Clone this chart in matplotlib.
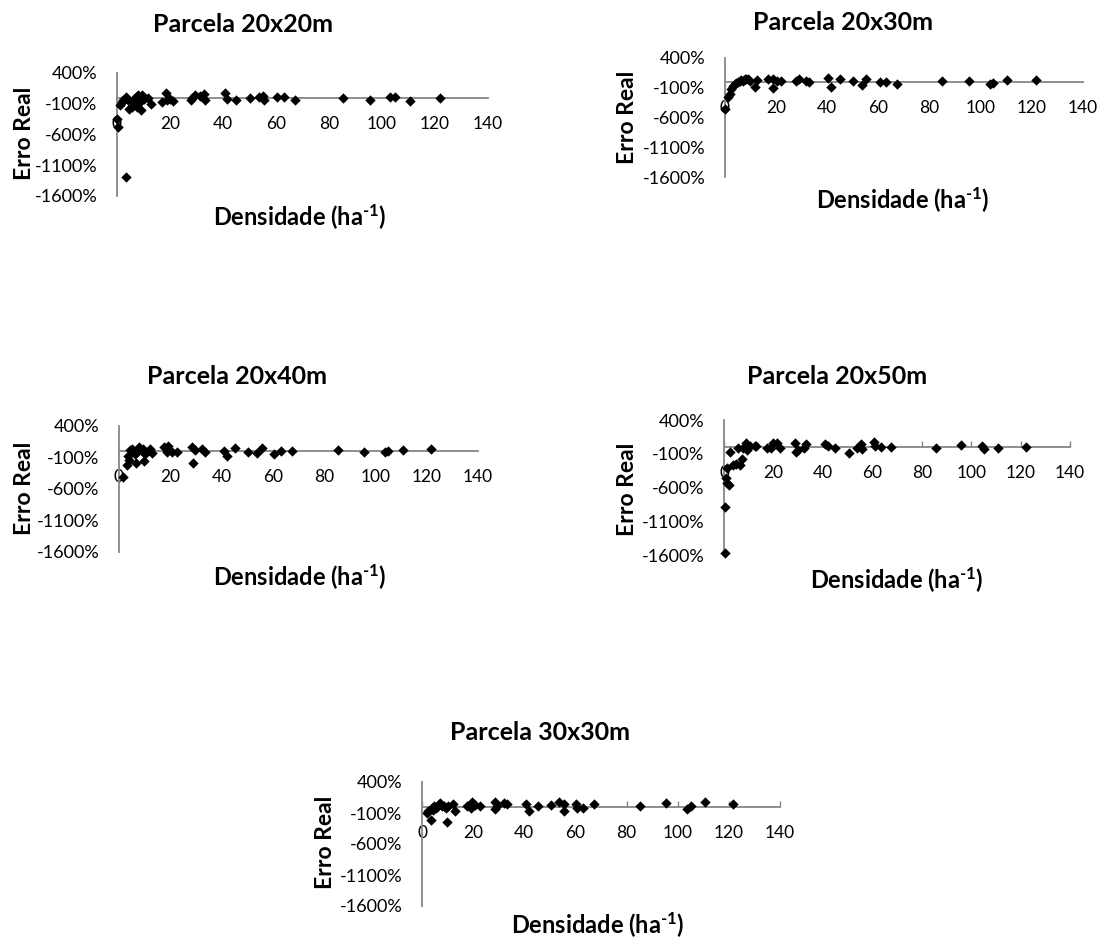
import matplotlib
matplotlib.use('Agg')
import matplotlib.pyplot as plt
from matplotlib.ticker import FuncFormatter

plt.rcParams['font.family'] = ['Lato', 'DejaVu Sans']
plt.rcParams['mathtext.fontset'] = 'custom'
plt.rcParams['mathtext.rm'] = 'Lato:bold'
plt.rcParams['mathtext.bf'] = 'Lato:bold'
plt.rcParams['mathtext.it'] = 'Lato:bold'

# Erro real (%) em função da densidade (ha-1), por tamanho de parcela
titulos = ['Parcela 20x20m', 'Parcela 20x30m', 'Parcela 20x40m',
           'Parcela 20x50m', 'Parcela 30x30m']

dens_20x20 = [0.1, 0.5, 3.3, 1.1, 1.8, 2.4, 3.0, 3.4, 4.3, 4.7, 5.5, 6.2, 6.5,
              7.3, 7.5, 8.1, 8.5, 8.8, 9.1, 9.4, 10.0, 11.7, 12.8, 17.0, 18.6,
              18.9, 19.9, 21.1, 27.9, 28.3, 29.6, 31.4, 32.7, 33.3, 40.6, 41.5,
              44.9, 50.0, 53.5, 55.0, 55.3, 60.4, 62.9, 67.3, 85.1, 95.3, 103.2,
              104.9, 110.6, 121.7]
erro_20x20 = [-340, -475, -1290, -125, -70, -45, -15, 10, -45, -180, -150, -70,
              -15, 10, -150, 40, -15, -70, -205, 50, -15, 0, -100, -70, 80, -45,
              -15, -60, -45, 0, 40, 25, 65, -45, 75, -25, -45, 0, 10, 20, -45,
              10, 10, -35, 0, -35, 10, 10, -60, 0]

dens_20x30 = [0.1, 1.2, 1.8, 2.5, 3.1, 3.8, 4.4, 5.1, 5.7, 6.4, 7.1, 7.7, 8.4,
              9.0, 9.6, 11.6, 12.6, 16.8, 18.8, 18.8, 20.5, 22.0, 27.9, 29.0,
              31.8, 32.7, 40.3, 41.6, 44.8, 50.0, 53.6, 55.3, 60.5, 62.8, 67.3,
              85.0, 95.3, 103.5, 104.9, 110.4, 121.8]
erro_20x30 = [-450, -250, -200, -120, -65, -40, -20, -10, 15, 30, 15, 45, 55,
              55, 15, -95, 25, 45, -105, 55, 15, 15, 15, 45, 15, 5, 70, -80, 45,
              15, -55, 45, -10, -10, -30, 15, 15, -30, -20, 35, 30]

dens_20x40 = [1.6, 3.1, 3.8, 3.5, 4.4, 5.1, 6.8, 6.4, 7.0, 7.9, 8.7, 9.2, 9.6,
              10.3, 12.0, 12.9, 17.4, 19.1, 18.7, 20.7, 22.6, 28.5, 28.9, 29.5,
              32.4, 33.4, 40.8, 42.1, 45.4, 50.3, 53.8, 55.8, 60.6, 63.3, 67.5,
              85.3, 95.4, 103.6, 104.9, 110.7, 121.7]
erro_20x40 = [-415, -220, -140, -70, 20, 35, -190, -40, -15, 65, 20, 35, -150,
              -40, 35, -25, 65, 75, -15, -15, -15, 65, -190, 20, 35, -15, 0, -70,
              55, -5, -25, 45, -40, 0, 0, 20, -15, -15, 0, 20, 30]

dens_20x50 = [0.3, 0.5, 0.9, 1.3, 1.9, 1.3, 2.3, 3.6, 5.0, 6.3, 7.3, 5.5, 7.7,
              9.0, 9.4, 10.4, 12.4, 13.1, 17.5, 18.9, 19.8, 21.6, 22.5, 28.6,
              29.3, 29.9, 32.4, 33.3, 40.8, 42.1, 45.1, 50.5, 54.0, 55.6, 55.9,
              60.7, 61.0, 63.4, 67.5, 85.6, 95.8, 104.2, 105.3, 110.9, 122.1]
erro_20x50 = [-1575, -885, -455, -540, -565, -315, -70, -265, -255, -265, -180,
              -20, -20, 55, -45, 20, 20, 15, -10, -20, 55, 55, -20, 55, -70, -45,
              -20, 40, 45, 20, -20, -95, -20, 40, -35, 80, 20, -5, 5, -20, 30,
              15, -35, -20, -5]

dens_30x30 = [1.8, 2.5, 3.5, 3.8, 4.4, 4.8, 5.3, 6.1, 6.6, 7.0, 7.7, 8.7, 9.3,
              9.6, 10.0, 12.0, 12.9, 17.5, 19.2, 19.7, 20.7, 22.7, 28.6, 28.6,
              29.2, 32.2, 33.1, 40.7, 41.8, 45.2, 50.3, 53.7, 55.7, 55.7, 60.2,
              60.8, 63.1, 67.4, 85.3, 95.4, 103.5, 105.0, 110.7, 121.8]
erro_30x30 = [-100, -65, -210, -25, -50, 5, -20, 20, 40, 60, 5, 20, -20, -245,
              5, 40, -75, 20, -20, 85, 30, 20, 75, -30, 5, 60, 40, 50, -60, 20,
              30, 75, 40, -75, 50, -20, -20, 50, 5, 60, -30, 5, 85, 40]

dens = [dens_20x20, dens_20x30, dens_20x40, dens_20x50, dens_30x30]
erro = [erro_20x20, erro_20x30, erro_20x40, erro_20x50, erro_30x30]

W, H = 1099, 940
# caixa do gráfico (esq, dir, topo, base) em pixels
caixas = [(117, 488, 73, 196), (725, 1083, 58, 177), (119, 478, 426, 552),
          (724, 1070, 420, 555), (422, 780, 782, 906)]
pos_titulo = [(243, 24), (843, 23), (237, 377), (837, 377), (540, 733)]
pos_xlabel = [(300, 217), (903, 200), (300, 577), (897, 580), (598, 925)]
pos_ylabel = [(25, 133), (627, 117), (25, 488), (627, 489), (325, 842)]
com_ticks = [False, False, False, True, True]

cinza = '#868686'
fig = plt.figure(figsize=(W / 100, H / 100), dpi=100)

for i in range(5):
    l, r, t, b = caixas[i]
    ax = fig.add_axes([l / W, 1 - b / H, (r - l) / W, (b - t) / H])
    ax.scatter(dens[i], erro[i], marker='D', s=28, color='black', zorder=3,
               clip_on=False, linewidths=0)
    ax.set_xlim(0, 140)
    ax.set_ylim(-1600, 400)
    ax.set_xticks(range(0, 141, 20))
    ax.set_yticks(range(-1600, 401, 500))
    ax.yaxis.set_major_formatter(FuncFormatter(lambda v, p: f'{v:.0f}%'))
    for s in ['top', 'right']:
        ax.spines[s].set_visible(False)
    ax.spines['bottom'].set_position(('data', 0))
    for s in ['left', 'bottom']:
        ax.spines[s].set_color(cinza)
        ax.spines[s].set_linewidth(1.3)
    ax.tick_params(axis='y', length=0, pad=14, labelsize=13)
    if com_ticks[i]:
        ax.tick_params(axis='x', direction='in', length=4, width=1,
                       color=cinza, pad=13, labelsize=12.5)
    else:
        ax.tick_params(axis='x', length=0, pad=13, labelsize=12.5)
    ax.patch.set_visible(False)

    fig.text(pos_titulo[i][0] / W, 1 - pos_titulo[i][1] / H, titulos[i],
             ha='center', va='center', fontsize=18, fontweight='bold')
    fig.text(pos_xlabel[i][0] / W, 1 - pos_xlabel[i][1] / H,
             r'Densidade (ha$^{\text{-1}}$)', ha='center', va='center',
             fontsize=17, fontweight='bold')
    fig.text(pos_ylabel[i][0] / W, 1 - pos_ylabel[i][1] / H, 'Erro Real',
             ha='center', va='center', rotation=90, fontsize=16.5,
             fontweight='bold')

fig.savefig('out.png', dpi=100, facecolor='white')
